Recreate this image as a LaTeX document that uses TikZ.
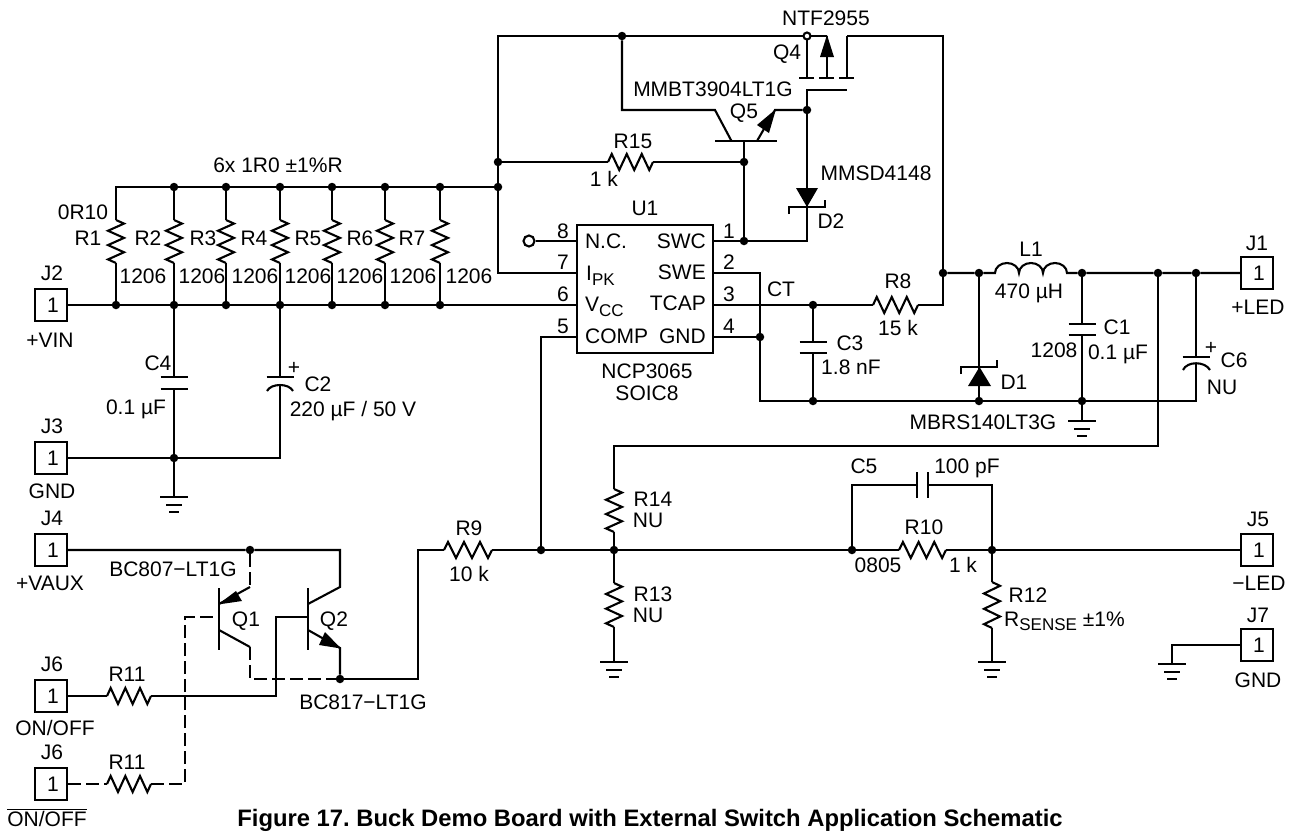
\documentclass[tikz,border=0pt]{standalone}
\usepackage{fontspec}
\setmainfont{Liberation Sans}
\usetikzlibrary{calc}
\frenchspacing
\newcommand{\zig}[2]{\draw[wire] (#1) -- ($(#1)!0.0833!(#2)!8pt!90:(#2)$) -- ($(#1)!0.25!(#2)!-8pt!90:(#2)$) -- ($(#1)!0.4167!(#2)!8pt!90:(#2)$) -- ($(#1)!0.5833!(#2)!-8pt!90:(#2)$) -- ($(#1)!0.75!(#2)!8pt!90:(#2)$) -- ($(#1)!0.9167!(#2)!-8pt!90:(#2)$) -- (#2);}
\newcommand{\gnd}[1]{\draw[wire] ($(#1)+(-14,0)$) -- ($(#1)+(14,0)$); \draw[wire] ($(#1)+(-8,8)$) -- ($(#1)+(8,8)$); \draw[wire] ($(#1)+(-5,15)$) -- ($(#1)+(5,15)$);}
\newcommand{\capbars}[1]{\draw[wire] ($(#1)+(-13.5,0)$) -- ($(#1)+(13.5,0)$);}
\tikzset{
  wire/.style={line width=2.1pt,line join=miter,line cap=butt},
  dwire/.style={wire,dash pattern=on 13pt off 5pt},
  dot/.style={circle,fill=black,inner sep=0pt,minimum size=8.5pt},
  opendot/.style={circle,draw,fill=white,line width=2.1pt,inner sep=0pt},
  conn/.style={draw,line width=2.1pt,inner sep=0pt,minimum size=32pt,font=\fontsize{21}{24}\selectfont},
  lab/.style={inner sep=0pt,font=\fontsize{21}{24}\selectfont,text height=15pt,text depth=0pt},
  head/.style={fill=black,draw=none},
  chip/.style={draw,line width=2.1pt,minimum width=136pt,minimum height=128pt,inner sep=0pt}
}
\begin{document}
\begin{tikzpicture}[x=1pt,y=-1pt]
\useasboundingbox (0,0) rectangle (1294,831);
% ----- connectors
\node[conn] (J1) at (1257,273) {\hspace{4pt}1};
\node[conn] (J2) at (51,305) {\hspace{4pt}1};
\node[conn] (J3) at (51,458) {\hspace{4pt}1};
\node[conn] (J4) at (51,550) {\hspace{4pt}1};
\node[conn] (J5) at (1257,550) {\hspace{4pt}1};
\node[conn] (J6) at (51,696) {\hspace{4pt}1};
\node[conn] (J6b) at (51,784) {\hspace{4pt}1};
\node[conn] (J7) at (1257,645) {\hspace{4pt}1};
\node[chip] (U1) at (645,289) {};
% ----- junctions
\foreach \n/\x/\y in {jt/622/36,jr15/498/162,jbus/498/187,jq5b/744/162,jq4g/807/110,jsw/744/241,
  t2/174/187,t3/226/187,t4/280/187,t5/332/187,t6/385/187,t7/440/187,
  jgnd4/760/337,jct/813/305,jc3/813/401,jsw2/943/273,jd1/979/273,jl/1082/273,jfb/1158/273,jc6/1196/273,
  jd1b/979/401,jc1b/1082/401,jc4/174/458,jq4/250/550,jq2e/340/679,jcomp/541/550,jr14/614/550,jc5/852/550,jr10/992/550}
  {\node[dot] (\n) at (\x,\y) {};}
\foreach \n/\x in {1/116,2/174,3/226,4/280,5/332,6/385,7/440}
  {\node[dot] (b\n) at (\x,305) {};
   \coordinate (ra\n) at (\x,220);
   \coordinate (rb\n) at (\x,263);
   \zig{ra\n}{rb\n}
   \draw[wire] (rb\n) -- (b\n);}
\coordinate (t1) at (116,187);
\foreach \n in {1,...,7} {\draw[wire] (t\n) -- (ra\n);}
% pins
\coordinate (u8) at (577,241); \coordinate (u7) at (577,273); \coordinate (u6) at (577,305); \coordinate (u5) at (577,337);
\coordinate (u1) at (713,241); \coordinate (u2) at (713,273); \coordinate (u3) at (713,305); \coordinate (u4) at (713,337);
% input bus
\draw[wire,line cap=rect] (t1) -- (t2) -- (t3) -- (t4) -- (t5) -- (t6) -- (t7) -- (jbus);
\draw[wire] (J2) -- (b1) -- (b2) -- (b3) -- (b4) -- (b5) -- (b6) -- (b7) -- (u6);
\draw[wire] (u7) -| (jbus) -- (jr15);
\coordinate (tl) at (498,36);
\coordinate (qo) at (807,36);
\coordinate (qs) at (827,36);
\coordinate (qd) at (847,36);
\coordinate (qdr) at (943,36);
\draw[wire] (jr15) -- (tl) -- (jt) -- (qo) -- (qs);
% R15
\coordinate (r15a) at (608,162); \coordinate (r15b) at (653,162);
\draw[wire] (jr15) -- (r15a); \zig{r15a}{r15b} \draw[wire] (r15b) -- (jq5b);
% Q4
\draw[wire] (qo) -- (807,78);
\draw[wire] (qs) -- (827,78);
\draw[wire] (qd) -- (847,78);
\draw[wire] (799,78) -- (814,78); \draw[wire] (819,78) -- (834,78); \draw[wire] (839,78) -- (854,78);
\fill[head] (827,35) -- (834,57) -- (820,57) -- cycle;
\draw[wire] (jq4g) -- (807,90) -- (847,90);
\draw[wire] (qd) -- (qdr) -- (jsw2);
% Q5
\coordinate (q5c) at (622,110);
\coordinate (q5k) at (715,110);
\coordinate (q5e) at (775,110);
\draw[wire] (jt) -- (q5c) -- (q5k) -- (731.5,141);
\draw[wire] (715,141) -- (777,141);
\draw[wire] (757,141) -- (q5e) -- (jq4g);
\fill[head] (776,109) -- (769,133) -- (757,125) -- cycle;
\draw[wire] (744,141) -- (jq5b) -- (jsw);
% U1 right side
\draw[wire] (u1) -- (jsw) -| (jq4g);
\fill[head] (796,188) -- (818,188) -- (807,207) -- cycle;
\draw[wire] (789,214) -- (789,207) -- (825,207) -- (825,200);
\coordinate (ctx) at (760,273); \coordinate (ctb) at (760,401);
\draw[wire] (u2) -- (ctx) -- (jgnd4) -- (ctb) -- (jc3) -- (jd1b) -- (jc1b) -- (1196,401) -- (1196,363);
\draw[wire] (u4) -- (jgnd4);
\draw[wire] (u3) -- (jct);
% C3
\draw[wire] (jct) -- (813,342); \capbars{813,342} \capbars{813,353} \draw[wire] (813,353) -- (jc3);
% R8
\coordinate (r8a) at (873,305); \coordinate (r8b) at (918,305); \coordinate (r8c) at (943,305);
\draw[wire] (jct) -- (r8a); \zig{r8a}{r8b} \draw[wire] (r8b) -- (r8c) -- (jsw2);
% L1
\draw[wire] (jsw2) -- (jd1) -- (995,273) arc[start angle=180,end angle=360,x radius=12,y radius=10] arc[start angle=180,end angle=360,x radius=12,y radius=10] arc[start angle=180,end angle=360,x radius=12,y radius=10] -- (jl) -- (jfb) -- (jc6) -- (J1);
% D1
\draw[wire] (jd1) -- (jd1b);
\fill[head] (968,386) -- (991,386) -- (979.5,367) -- cycle;
\draw[wire] (961,374) -- (961,367) -- (997,367) -- (997,360);
% C1
\draw[wire] (jl) -- (1082,324); \capbars{1082,324} \capbars{1082,335} \draw[wire] (1082,335) -- (jc1b);
\coordinate (g5) at (1082,421); \draw[wire] (jc1b) -- (g5); \gnd{g5}
% C6
\draw[wire] (jc6) -- (1196,357); \capbars{1196,357}
\draw[wire] (1183,370) .. controls (1187,361) and (1205,361) .. (1210,370);
% feedback
\coordinate (fb) at (1158,446); \coordinate (fb2) at (614,446);
\coordinate (r14a) at (614,489); \coordinate (r14b) at (614,532);
\draw[wire] (jfb) -- (fb) -- (fb2) -- (r14a); \zig{r14a}{r14b} \draw[wire] (r14b) -- (jr14);
\coordinate (r13a) at (614,583); \coordinate (r13b) at (614,627); \coordinate (g2) at (614,662);
\draw[wire] (jr14) -- (r13a); \zig{r13a}{r13b} \draw[wire] (r13b) -- (g2); \gnd{g2}
% main line
\coordinate (r9a) at (444,550); \coordinate (r9b) at (492,550); \coordinate (r9l) at (418,550);
\coordinate (r10a) at (899,550); \coordinate (r10b) at (946,550);
\draw[wire] (jq2e) -| (r9l) -- (r9a); \zig{r9a}{r9b}
\draw[wire] (r9b) -- (jcomp) -- (jr14) -- (jc5) -- (r10a); \zig{r10a}{r10b} \draw[wire] (r10b) -- (jr10) -- (J5);
\draw[wire] (u5) -| (jcomp);
% C5
\coordinate (c5l) at (852,485); \coordinate (c5r) at (992,485);
\draw[wire] (jc5) -- (c5l) -- (917,485); \draw[wire] (928,485) -- (c5r) -- (jr10);
\draw[wire] (917,472) -- (917,498); \draw[wire] (928,472) -- (928,498);
% R12
\coordinate (r12a) at (992,582); \coordinate (r12b) at (992,628); \coordinate (g3) at (992,662);
\draw[wire] (jr10) -- (r12a); \zig{r12a}{r12b} \draw[wire] (r12b) -- (g3); \gnd{g3}
% J7
\coordinate (g4) at (1172,664);
\draw[wire] (J7) -| (g4); \gnd{g4}
% C4 C2 J3
\draw[wire] (b2) -- (174,377); \capbars{174,377} \capbars{174,389} \draw[wire] (174,389) -- (jc4);
\draw[wire] (b4) -- (280,377); \capbars{280,377}
\draw[wire] (267,391) .. controls (271,383) and (289,383) .. (293,391);
\coordinate (c2b) at (280,458);
\draw[wire] (280,385) -- (c2b) -- (jc4) -- (J3);
\coordinate (g1) at (174,497); \draw[wire] (jc4) -- (g1); \gnd{g1}
% J4 / Q1 Q2
\coordinate (q2c) at (340,550);
\draw[wire] (J4) -- (jq4) -- (q2c) -- (340,587) -- (308,604);
\draw[wire] (308,588) -- (308,650);
\draw[wire] (308,630) -- (340,648) -- (jq2e);
\fill[head] (341,648.5) -- (319,645) -- (325,632) -- cycle;
\coordinate (r11a) at (107,696); \coordinate (r11b) at (151,696); \coordinate (q2b) at (308,617);
\draw[wire] (J6) -- (r11a); \zig{r11a}{r11b}
\draw[wire] (r11b) -- (276,696) -- (276,617) -- (q2b);
\draw[dwire] (jq4) -- (250,587);
\draw[wire] (250,587) -- (219,604);
\fill[head] (218,604.5) -- (236,591) -- (242,601) -- cycle;
\draw[wire] (219,588) -- (219,650);
\draw[wire] (219,630) -- (250,647);
\draw[dwire] (250,647) -- (250,679) -- (jq2e);
\coordinate (r11c) at (107,784); \coordinate (r11d) at (151,784); \coordinate (q1b) at (219,617);
\draw[dwire] (J6b) -- (r11c); \zig{r11c}{r11d}
\draw[dwire] (r11d) -- (185,784) -- (185,617) -- (q1b);
% open circles
\node[opendot,minimum size=7pt] (oq4) at (qo) {};
\node[opendot,minimum size=11pt] (o8) at (529,241) {};
\draw[wire] (o8) -- (u8);
% ----- labels
\foreach \n/\x/\y/\t in {
 a1/52/273/J2, a2/50/340/+VIN, a3/83/212/0R10, a4/88/238/R1, a5/148/238/R2, a6/203/238/R3, a7/254/238/R4, a8/308/238/R5, a9/360/238/R6, a10/412/238/R7,
 c1/143/276/1206, c2/202/276/1206, c3/255/276/1206, c4/308/276/1206, c5/360/276/1206, c6/413/276/1206, c7/469/276/1206,
 d1/278/165/6x 1R0 ±1\%R, d2/294/367/+, d3/318/384/C2, d5/158/363/C4, d6/136/407/0.1 µF, d7/52/426/J3, d8/52/491/GND,
 e1/52/518/J4, e2/50/583/+VAUX, e3/173/569/BC807−LT1G, e4/246/619/Q1, e5/334/619/Q2, e6/52/664/J6, e7/127/674/R11, e9/52/752/J6, e10/127/762/R11, e11/363/702/BC817−LT1G,
 f1/826/18/NTF2955, f2/787/52/Q4, f3/713/89/MMBT3904LT1G, f4/744/111/Q5, f5/633/141/R15, f6/604/179/1 k, f7/876/173/MMSD4148, f8/831/221/D2,
 g1/645/208/U1, g2/563/231/8, g3/563/262/7, g4/563/294/6, g5/563/326/5, g6/729/231/1, g7/729/262/2, g8/729/294/3, g9/729/326/4, g10/606/241/N.C., g11/647/371/NCP3065, g12/647/393/SOIC8,
 h1/781/289/CT, h2/898/328/15 k, h3/850/343/C3, h4/851/367/1.8 nF, h5/898/281/R8,
 i1/1031/249/L1, i2/1029/291/470 µH, i3/1117/327/C1, i4/1054/350/1208, i5/1118/352/0.1 µF, i6/1211/347/+, i7/1234/360/C6, i8/1222/387/NU, i9/1257/243/J1, i10/1258/307/+LED, i11/1014/382/D1, i12/983/422/MBRS140LT3G,
 k1/469/528/R9, k2/469/574/10 k, k3/653/499/R14, k4/648/520/NU, k5/653/594/R13, k6/648/615/NU,
 m1/864/466/C5, m2/967/466/100 pF, m3/924/527/R10, m4/878/565/0805, m5/963/565/1 k, m6/1028/595/R12, m7/1258/519/J5, m8/1259/583/−LED, m9/1258/615/J7, m10/1258/680/GND}
 {\node[lab] (l\n) at (\x,\y) {\t};}
\node[lab] (ld4) at (353,409) {220 µF / 50 V};
\node[lab] (le8) at (55,728) {ON/OFF};
\node[lab,anchor=east] (lswc) at (706,241) {SWC};
\node[lab,anchor=east] (lswe) at (706,272) {SWE};
\node[lab,anchor=east] (ltcap) at (706,303) {TCAP};
\node[lab,anchor=east] (lgnd) at (706,336) {GND};
\node[lab,anchor=west] (lcomp) at (585,336) {COMP};
\node[lab,anchor=west] (lipk) at (586,273) {I\raisebox{-5pt}{\fontsize{17}{17}\selectfont PK}};
\node[lab,anchor=west] (lvcc) at (585,304) {V\raisebox{-5pt}{\fontsize{17}{17}\selectfont CC}};
\node[lab,anchor=west] (lrs) at (1004,619) {R\raisebox{-4pt}{\fontsize{17}{17}\selectfont SENSE} ±1\%};
\node[lab] (lonoff) at (47,819) {ON/OFF};
\draw[line width=1pt] ([yshift=1.5pt]lonoff.north west) -- ([yshift=1.5pt]lonoff.north east);
\node[lab,font=\bfseries\fontsize{23.8}{26}\selectfont] (title) at (650,819) {Figure 17. Buck Demo Board with External Switch Application Schematic};
\end{tikzpicture}
\end{document}
